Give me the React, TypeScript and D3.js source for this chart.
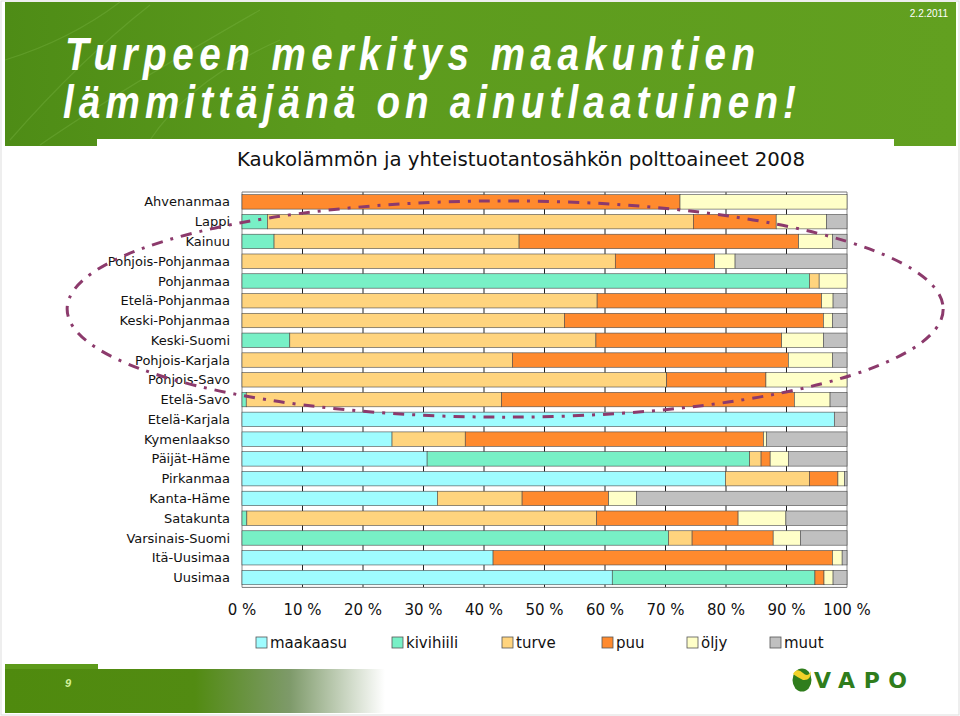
import React, { useEffect, useRef } from 'react';
import * as d3 from 'd3';

const regions = [
  'Ahvenanmaa', 'Lappi', 'Kainuu', 'Pohjois-Pohjanmaa', 'Pohjanmaa',
  'Etelä-Pohjanmaa', 'Keski-Pohjanmaa', 'Keski-Suomi', 'Pohjois-Karjala',
  'Pohjois-Savo', 'Etelä-Savo', 'Etelä-Karjala', 'Kymenlaakso', 'Päijät-Häme',
  'Pirkanmaa', 'Kanta-Häme', 'Satakunta', 'Varsinais-Suomi', 'Itä-Uusimaa', 'Uusimaa',
];

const fuels = ['maakaasu', 'kivihiili', 'turve', 'puu', 'öljy', 'muut'];

// shares in % per region
const maakaasu = [0, 0, 0, 0, 0, 0, 0, 0, 0, 0, 0, 97.9, 24.8, 30.6, 79.9, 32.3, 0, 0, 41.5, 61.2];
const kivihiili = [0, 4.2, 5.3, 0, 93.8, 0, 0, 7.9, 0, 0, 0.7, 0, 0, 53.3, 0, 0, 0.8, 70.5, 0, 33.5];
const turve = [0, 70.4, 40.5, 61.7, 1.6, 58.7, 53.3, 50.6, 44.7, 70.2, 42.2, 0, 12.1, 1.9, 13.9, 14.0, 57.8, 3.9, 0, 0];
const puu = [72.4, 13.7, 46.2, 16.4, 0, 37.1, 42.8, 30.7, 45.6, 16.4, 48.4, 0, 49.3, 1.5, 4.7, 14.3, 23.4, 13.4, 56.1, 1.5];
const oljy = [27.6, 8.3, 5.6, 3.4, 4.6, 1.9, 1.5, 6.9, 7.3, 13.4, 5.9, 0, 0.5, 3.0, 1.1, 4.6, 7.9, 4.5, 1.6, 1.5];
const muut = [0, 3.4, 2.4, 18.5, 0, 2.3, 2.4, 3.9, 2.4, 0, 2.8, 2.1, 13.3, 9.7, 0.4, 34.8, 10.1, 7.7, 0.8, 2.3];

const xTicks = [0, 10, 20, 30, 40, 50, 60, 70, 80, 90, 100];

const colors = ['#9ffcff', '#78f0c6', '#ffd47e', '#ff8a2e', '#ffffc8', '#c0c0c0'];

export default function App() {
  const ref = useRef<SVGSVGElement>(null);

  useEffect(() => {
    const svg = d3.select(ref.current);
    svg.selectAll('*').remove();

    const width = 960;
    const height = 716;

    const defs = svg.append('defs');
    const hg = defs.append('linearGradient').attr('id', 'hdr').attr('x1', 0).attr('x2', 1);
    hg.append('stop').attr('offset', 0).attr('stop-color', '#4e8c16');
    hg.append('stop').attr('offset', 0.35).attr('stop-color', '#5c9b1d');
    hg.append('stop').attr('offset', 1).attr('stop-color', '#62a020');
    const fg = defs.append('linearGradient').attr('id', 'ftr').attr('x1', 0).attr('x2', 1);
    fg.append('stop').attr('offset', 0).attr('stop-color', '#4f8a0e');
    fg.append('stop').attr('offset', 0.5).attr('stop-color', '#528b12');
    fg.append('stop').attr('offset', 0.75).attr('stop-color', '#7e9a6a');
    fg.append('stop').attr('offset', 1).attr('stop-color', '#ffffff');

    // page background
    svg.append('rect').attr('width', width).attr('height', height).attr('fill', '#fff');
    svg.append('rect').attr('x', 1).attr('y', 1).attr('width', width - 2).attr('height', height - 2)
      .attr('fill', 'none').attr('stroke', '#ddd');

    // header band
    svg.append('rect').attr('x', 5).attr('y', 2).attr('width', 951).attr('height', 144).attr('fill', 'url(#hdr)');
    // faint leaf veins
    const veins = svg.append('g').attr('stroke', '#86bd4e').attr('stroke-opacity', 0.3).attr('fill', 'none');
    [[10, 140, 80, 60, 150, 5], [40, 145, 120, 90, 260, 10], [5, 60, 70, 40, 120, 2], [150, 140, 190, 80, 280, 40]]
      .forEach(([a, b, c, d, e, f]) => {
        veins.append('path').attr('d', `M${a},${b} Q${c},${d} ${e},${f}`).attr('stroke-width', 1.2);
      });
    svg.append('rect').attr('x', 97).attr('y', 139).attr('width', 797).attr('height', 10).attr('fill', '#fff');

    svg.append('text').attr('x', 948).attr('y', 17).attr('text-anchor', 'end')
      .attr('font-family', 'Liberation Sans, Arial, sans-serif').attr('font-size', 10)
      .attr('fill', '#fff').text('2.2.2011');

    // condensed italic title: glyphs squeezed horizontally, letters spaced out
    const titleFont = 'Liberation Sans, Arial, sans-serif';
    const squeeze = 0.84;
    const titleLines: [string, number, number, number][] = [
      ['Turpeen merkitys maakuntien', 65, 70, 690],
      ['lämmittäjänä on ainutlaatuinen!', 63, 118, 733],
    ];
    titleLines.forEach(([t, tx, ty, len]) => {
      svg.append('text')
        .attr('transform', `translate(${tx},${ty}) scale(${squeeze},1)`)
        .attr('font-family', titleFont).attr('font-size', 46).attr('font-weight', 'bold').attr('font-style', 'italic')
        .attr('fill', '#fff').attr('textLength', len / squeeze).attr('lengthAdjust', 'spacing')
        .text(t);
    });

    // footer
    svg.append('rect').attr('x', 5).attr('y', 664).attr('width', 93).attr('height', 10).attr('fill', '#5d9a1a');
    svg.append('rect').attr('x', 5).attr('y', 669).attr('width', 380).attr('height', 44).attr('fill', 'url(#ftr)');
    svg.append('text').attr('x', 65).attr('y', 687)
      .attr('font-family', 'Liberation Sans, Arial, sans-serif').attr('font-size', 11)
      .attr('font-style', 'italic').attr('font-weight', 'bold').attr('fill', '#d4f29a').text('9');

    // logo
    svg.append('ellipse').attr('cx', 802).attr('cy', 680).attr('rx', 9.5).attr('ry', 11.5).attr('fill', '#2f7d1c');
    svg.append('path').attr('d', 'M793,674 Q797,667 803,673 Q808,678 811,671 Q811,681 803,680 Q797,677 793,674 Z')
      .attr('fill', '#f2d22a');
    svg.append('text').attr('x', 814).attr('y', 688)
      .attr('font-family', 'DejaVu Sans, sans-serif').attr('font-size', 22).attr('font-weight', 'bold')
      .attr('fill', '#2f7d1c').attr('textLength', 93).attr('lengthAdjust', 'spacing').text('VAPO');

    // chart
    const x = d3.scaleLinear().domain([0, 100]).range([242, 847]);
    const y = d3.scaleBand().domain(regions).range([192, 587.4]).paddingInner(0.27).paddingOuter(0.135);

    const font = 'DejaVu Sans, Verdana, sans-serif';

    svg.append('text').attr('x', 237).attr('y', 166)
      .attr('font-family', font).attr('font-size', 19).attr('fill', '#111')
      .attr('textLength', 568).attr('lengthAdjust', 'spacingAndGlyphs')
      .text('Kaukolämmön ja yhteistuotantosähkön polttoaineet 2008');

    // grid lines
    svg.append('g').selectAll('line').data(xTicks).join('line')
      .attr('x1', (d) => x(d)).attr('x2', (d) => x(d))
      .attr('y1', 192).attr('y2', 587.4)
      .attr('stroke', (d) => (d === 0 || d === 100 ? '#8a8a8a' : '#222'))
      .attr('stroke-width', 1);
    svg.append('line').attr('x1', x(0)).attr('x2', x(100)).attr('y1', 192).attr('y2', 192).attr('stroke', '#777');
    svg.append('line').attr('x1', x(0)).attr('x2', x(100)).attr('y1', 587.4).attr('y2', 587.4).attr('stroke', '#777');

    const table = regions.map((r, i) => ({
      region: r,
      maakaasu: maakaasu[i], kivihiili: kivihiili[i], turve: turve[i],
      puu: puu[i], 'öljy': oljy[i], muut: muut[i],
    }));
    const series = d3.stack<any>().keys(fuels)(table);

    series.forEach((s, k) => {
      svg.append('g').selectAll('rect').data(s.filter((d) => d[1] - d[0] > 0)).join('rect')
        .attr('x', (d) => x(d[0]))
        .attr('y', (d) => y(d.data.region) as number)
        .attr('width', (d) => x(d[1]) - x(d[0]))
        .attr('height', y.bandwidth())
        .attr('fill', colors[k])
        .attr('stroke', '#4a4a4a')
        .attr('stroke-width', 0.6);
    });

    // category labels
    svg.append('g').selectAll('text').data(regions).join('text')
      .attr('x', 230).attr('y', (d) => (y(d) as number) + y.bandwidth() / 2)
      .attr('dy', '0.35em').attr('text-anchor', 'end')
      .attr('font-family', font).attr('font-size', 13).attr('fill', '#111')
      .text((d) => d);

    // x tick labels
    svg.append('g').selectAll('text').data(xTicks).join('text')
      .attr('x', (d) => x(d)).attr('y', 615).attr('text-anchor', 'middle')
      .attr('font-family', font).attr('font-size', 15).attr('fill', '#111')
      .text((d) => `${d} %`);

    // legend
    const legendX = [256, 392, 502, 602, 687, 770];
    const lg = svg.append('g').selectAll('g').data(fuels).join('g')
      .attr('transform', (d, i) => `translate(${legendX[i]},637)`);
    lg.append('rect').attr('width', 11).attr('height', 11)
      .attr('fill', (d, i) => colors[i]).attr('stroke', '#555').attr('stroke-width', 0.8);
    lg.append('text').attr('x', 14).attr('y', 11)
      .attr('font-family', font).attr('font-size', 15).attr('fill', '#111')
      .text((d) => d);

    // highlight ellipse around the peat regions
    const top = (y(regions[0]) as number) + y.bandwidth() / 2 - 1;
    const bottom = (y(regions[11]) as number) + 5;
    svg.append('ellipse')
      .attr('cx', x(43.5)).attr('cy', (top + bottom) / 2)
      .attr('rx', x(72.4) - x(0)).attr('ry', (bottom - top) / 2)
      .attr('fill', 'none').attr('stroke', '#8c3a6c').attr('stroke-width', 3)
      .attr('stroke-dasharray', '11,8,3,8');
  }, []);

  return (
    <svg ref={ref} width={960} height={716}
      style={{ position: 'absolute', left: 0, top: 0, display: 'block' }} />
  );
}
